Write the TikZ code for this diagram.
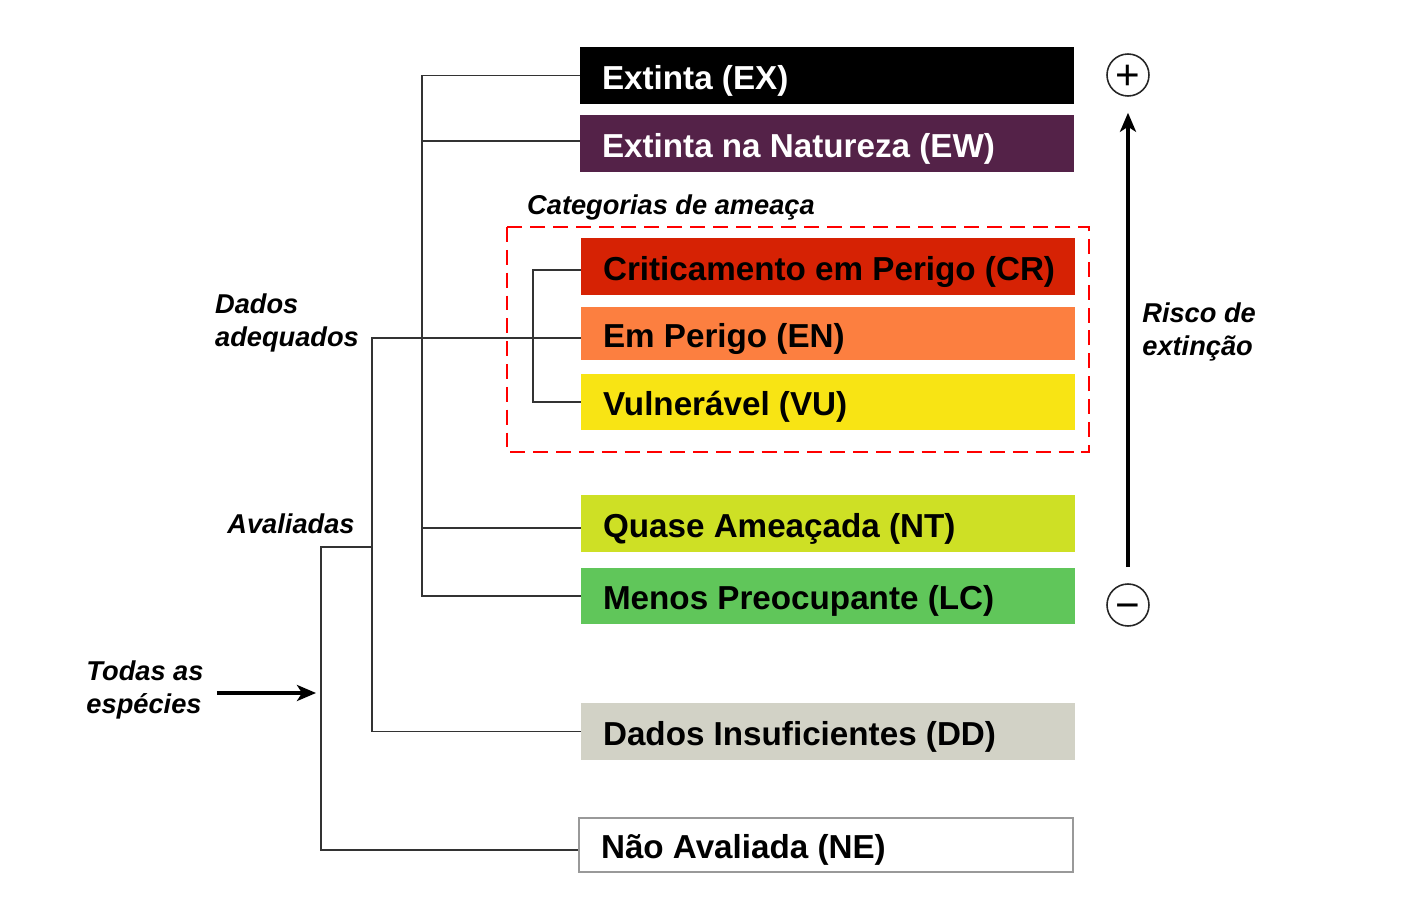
\documentclass[tikz,border=0pt]{standalone}
\usepackage{fontspec}
\setmainfont{Liberation Sans}
\usetikzlibrary{arrows.meta, positioning}
\definecolor{ewpurple}{RGB}{84,34,72}
\definecolor{crred}{RGB}{214,34,4}
\definecolor{enorange}{RGB}{252,127,64}
\definecolor{vuyellow}{RGB}{248,228,20}
\definecolor{ntlime}{RGB}{206,224,37}
\definecolor{lcgreen}{RGB}{96,198,90}
\definecolor{ddgray}{RGB}{210,210,198}
\newcommand{\catline}[1]{\makebox[9cm][l]{#1}}
\tikzset{
	cat/.style={rectangle, minimum width=9.88cm, minimum height=1.14cm, inner xsep=0.44cm, inner ysep=0pt, text height=16.8pt, text depth=1.1pt, font=\fontsize{18.9}{22}\selectfont\bfseries},
	tag/.style={font=\fontsize{15.5}{18.7}\selectfont\bfseries\itshape, align=left, inner sep=0pt},
	link/.style={draw=black!80, line width=0.8pt},
	bigarrow/.style={->, >={Stealth[length=0.38cm, width=0.32cm, inset=0.1cm]}, line width=2pt},
	sign/.style={circle, draw=black!85, line width=0.9pt, minimum size=0.84cm, inner sep=0pt, text height=16.8pt, text depth=0pt, font=\fontsize{24}{24}\selectfont},
}

\begin{document}
\begin{tikzpicture}[x=0.02cm, y=-0.02cm]
				\useasboundingbox (0,0) rectangle (1418,922);
				% Categories
				\node[cat, fill=black, text=white] (ex) at (827,75.5) {\catline{Extinta (EX)}};
				\node[cat, fill=ewpurple, text=white] (ew) at (827,143.5) {\catline{Extinta na Natureza (EW)}};
				\node[cat, fill=crred] (cr) at (828,266.5) {\catline{Criticamento em Perigo (CR)}};
				\node[cat, fill=enorange, minimum height=1.06cm] (en) at (828,333.5) {\catline{Em Perigo (EN)}};
				\node[cat, fill=vuyellow] (vu) at (828,402) {\catline{Vulnerável (VU)}};
				\node[cat, fill=ntlime] (nt) at (828,523.5) {\catline{Quase Ameaçada (NT)}};
				\node[cat, fill=lcgreen] (lc) at (828,596) {\catline{Menos Preocupante (LC)}};
				\node[cat, fill=ddgray] (dd) at (828,731.5) {\catline{Dados Insuficientes (DD)}};
				\node[cat, draw=black!40, line width=0.8pt, minimum height=1.08cm] (ne) at (826,845) {\catline{Não Avaliada (NE)}};
				% Threat categories
				\draw[red, line width=1.3pt, dash pattern=on 8.5pt off 4.5pt] (507,227) rectangle (1089,452);
				\node[tag] (threat) at (671,207) {Categorias de ameaça};
				% Labels on the left
				\node[tag] (adequados) at (287,323) {Dados\\adequados};
				\node[tag] (avaliadas) at (291,524) {Avaliadas};
				\node[tag] (todas) at (145,690) {Todas as\\espécies};
				% Brackets
				\coordinate (b1) at (422,0);
				\coordinate (b2) at (533,0);
				\coordinate (b3) at (372,0);
				\coordinate (b4) at (321,0);
				\coordinate (av) at (372,547);
				\coordinate (ent) at (316,693);
				\draw[link] (ex.west) -- (ex.west -| b1) |- (lc.west);
				\draw[link] ([yshift=0.05cm]ew.west) -- ([yshift=0.05cm]ew.west -| b1);
				\draw[link] ([yshift=-0.09cm]nt.west) -- ([yshift=-0.09cm]nt.west -| b1);
				\draw[link] ([yshift=-0.07cm]cr.west) -- ([yshift=-0.07cm]cr.west -| b2) |- (vu.west);
				\draw[link] ([yshift=-0.09cm]en.west) -- ([yshift=-0.09cm]en.west -| b3) |- (dd.west);
				\draw[link] (av) -- (av -| b4) |- ([yshift=-0.1cm]ne.west);
				\draw[bigarrow, shorten <=0.26cm] (todas.east |- ent) -- (ent);
				% Extinction risk
				\node[sign] (plus) at (1128,75) {+};
				\node[sign] (minus) at (1128,605) {−};
				\draw[bigarrow, shorten <=0.32cm, shorten >=0.32cm] (minus) -- (plus);
				\node[tag, anchor=west] (risco) at (1142,332) {Risco de\\extinção};
			\end{tikzpicture}
\end{document}
